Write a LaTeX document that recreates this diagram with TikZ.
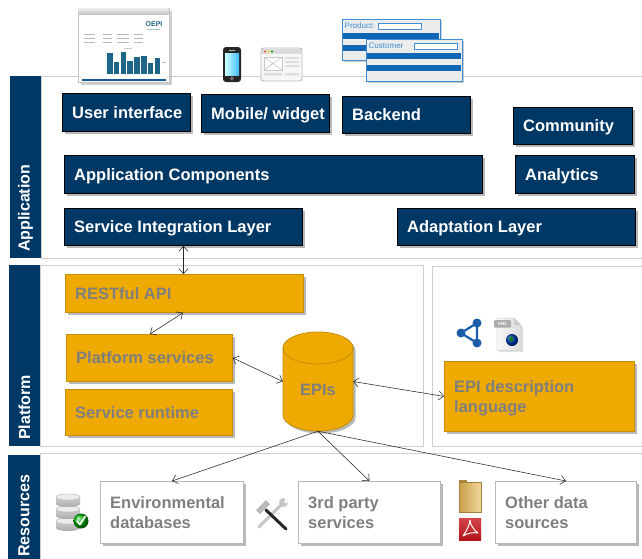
\documentclass[tikz,border=0pt]{standalone}
\usepackage{fontspec}
\setmainfont{Liberation Sans}
\usetikzlibrary{arrows.meta,shadows,calc}

\definecolor{navy}{HTML}{003865}
\definecolor{gold}{HTML}{EEAA00}
\definecolor{goldedge}{HTML}{C58E00}
\definecolor{textgray}{HTML}{7F7F7F}
\definecolor{panelgray}{HTML}{CFCFCF}
\definecolor{resedge}{HTML}{B8B8B8}
\definecolor{formblue}{HTML}{3C8DD6}
\definecolor{barblue}{HTML}{0F66B5}
\definecolor{chartteal}{HTML}{1E6688}
\definecolor{sharecol}{HTML}{1C5DAA}
\definecolor{pdfred}{HTML}{C8161D}
\definecolor{folderdark}{HTML}{C9A04A}
\definecolor{folderlight}{HTML}{F1D79A}

\tikzset{
  shadowed/.style={drop shadow={shadow xshift=2.5pt, shadow yshift=-2.5pt, fill=black, opacity=0.28}},
  appbox/.style={shadowed, draw=black, line width=0.9pt, fill=navy},
  appbox text/.style={text=white, font=\bfseries\fontsize{16.5}{19}\selectfont, inner sep=0pt, text height=0.72em, text depth=0em, yshift=-2pt},
  platbox/.style={shadowed, draw=goldedge, line width=0.8pt, fill=gold},
  platbox text/.style={text=textgray, font=\bfseries\fontsize{16.5}{19}\selectfont, inner sep=0pt, text height=0.72em, text depth=0em, yshift=-2pt},
  platbox2/.style={platbox},
  platbox2 text/.style={text=textgray, font=\bfseries\fontsize{16.5}{20}\selectfont, inner sep=0pt, align=left, yshift=-1.5pt},
  resbox/.style={shadowed, draw=resedge, line width=0.9pt, fill=white},
  resbox text/.style={text=textgray, font=\bfseries\fontsize{16.5}{20}\selectfont, inner sep=0pt, align=left},
  bandblock/.style={fill=navy, draw=none},
  bandtext/.style={rotate=90, anchor=west, text=white, font=\bfseries\fontsize{16}{19}\selectfont, inner sep=0pt},
  panel/.style={draw=panelgray, line width=0.9pt, fill=white},
  link/.style={draw=black!85, line width=0.55pt, arrows={Straight Barb[length=5pt,width=9pt]-Straight Barb[length=5pt,width=9pt]}},
  feed/.style={draw=black!85, line width=0.55pt, arrows={-Straight Barb[length=5pt,width=9pt]}},
}

% box with a left-aligned label: style, name, x1, y1, x2, y2, text
\newcommand\archbox[7]{%
  \pgfmathsetmacro\archw{#5-#3}%
  \pgfmathsetmacro\archh{#6-#4}%
  \node[#1, anchor=north west, minimum width=\archw pt, minimum height=\archh pt, inner sep=0pt] (#2) at (#3,#4) {};
  \node[#1 text, anchor=west] (#2-t) at ([xshift=10pt]#2.west) {#7};}

\begin{document}
\begin{tikzpicture}[x=1pt, y=-1pt]
\useasboundingbox (0,0) rectangle (642,558);
\fill[white] (0,0) rectangle (642,558);

% ---------- layer panels ----------
\draw[panel] (41,76) rectangle (646,258);
\draw[panel] (40,265) rectangle (423,446);
\draw[panel] (432,266) rectangle (646,446);
\draw[panel] (40,453) rectangle (646,562);

% ---------- layer bands ----------
\fill[bandblock] (10,76) rectangle (41,258);
\node[bandtext] (lbl-app) at (25.5,252) {Application};
\fill[bandblock] (9,265) rectangle (40,446);
\node[bandtext] (lbl-plat) at (24.5,440) {Platform};
\fill[bandblock] (8,455) rectangle (40,560);
\node[bandtext] (lbl-res) at (24,557) {Resources};

% ---------- top icons ----------
% dashboard screenshot
\fill[black, opacity=.18] (80.5,10.5) rectangle (171.5,84.5);
\draw[gray!50, fill=white, line width=.6pt] (78,8) rectangle (169,82);
\shade[top color=gray!15, bottom color=gray!45] (78.3,8.3) rectangle (168.7,14);
\node[font=\bfseries\fontsize{7}{7}\selectfont, text=chartteal, inner sep=0pt] (logo) at (154,24) {OEPI};
\draw[chartteal!40, line width=.5pt] (147,29) -- (160,29);
\foreach \yy in {34,38,42} {
  \draw[gray!55, line width=.6pt] (84,\yy) -- (95,\yy) (103,\yy) -- (112,\yy) (117,\yy) -- (129,\yy) (134,\yy) -- (143,\yy);
}
\draw[gray!45, line width=.5pt] (124,48) -- (132,48);
\foreach \i/\top in {0/53,1/62,2/52,3/61,4/57,5/56,6/63,7/58} {
  \fill[chartteal] ({107+6.8*\i},\top) rectangle ({112.5+6.8*\i},74);
}
\draw[gray!50, line width=.5pt] (162,62) -- (166,62);
\fill[chartteal!85!blue] (82,79) rectangle (166,81);

% phone
\fill[black!85, rounded corners=3pt] (223,47) rectangle (241,82);
\shade[left color=cyan!20!white, right color=blue!35!cyan!75] (225,53) rectangle (239,75);
\fill[gray!60] (229,50) rectangle (235,51);
\draw[gray!70, line width=.5pt] (232,78.5) circle (1.6pt);

% browser window
\draw[gray!55, fill=gray!6, rounded corners=2.5pt, line width=.9pt] (261,48) rectangle (302,81);
\fill[gray!28] (262,49) rectangle (301,54);
\fill[red!70] (265,51.5) circle (1.2pt);
\fill[yellow!80!orange] (268.5,51.5) circle (1.2pt);
\fill[green!60!black] (272,51.5) circle (1.2pt);
\draw[gray!45, fill=white, line width=.6pt] (264,57) rectangle (282,70);
\draw[gray!45, line width=.6pt] (264,57) -- (282,70) (264,70) -- (282,57);
\fill[gray!25] (285,57) rectangle (299,59) (285,61) rectangle (299,63) (285,65) rectangle (299,67)
  (264,73) rectangle (282,75.5) (285,73) rectangle (299,75.5);

% forms
\fill[black, opacity=.2] (344,21) rectangle (442,62);
\draw[formblue, fill=gray!15, line width=1pt] (342,19) rectangle (440,60);
\node[anchor=west, text=formblue, font=\fontsize{8}{8}\selectfont, inner sep=0pt] (prod) at (344.5,26) {Product:};
\draw[formblue, fill=white, line width=.8pt] (378,23) rectangle (421,29);
\fill[barblue] (343,33) rectangle (439,39);
\fill[barblue] (343,45) rectangle (366,51);
\fill[black, opacity=.2] (368,41) rectangle (464,83);
\draw[formblue, fill=gray!15, line width=1pt] (366,39) rectangle (462,81);
\node[anchor=west, text=formblue, font=\fontsize{8}{8}\selectfont, inner sep=0pt] (cust) at (368.5,46) {Customer};
\draw[formblue, fill=white, line width=.8pt] (414,43) rectangle (457,49);
\fill[barblue] (367,53) rectangle (461,59);
\fill[barblue] (367,65) rectangle (461,71);

% ---------- application layer ----------
\archbox{appbox}{ui}{62}{93}{190}{131}{User interface}
\archbox{appbox}{mob}{201}{94}{329}{132}{Mobile/ widget}
\archbox{appbox}{back}{342}{96}{470}{133}{Backend}
\archbox{appbox}{comm}{513}{107}{632}{144}{Community}
\archbox{appbox}{comp}{64}{155}{482}{193}{Application Components}
\archbox{appbox}{anal}{515}{155}{634}{193}{Analytics}
\archbox{appbox}{sil}{64}{208}{302}{245}{Service Integration Layer}
\archbox{appbox}{adapt}{397}{208}{635}{245}{Adaptation Layer}

% ---------- platform layer ----------
\archbox{platbox}{rest}{65}{274}{303}{312}{RESTful API}
\archbox{platbox}{ps}{66}{334}{232}{381}{Platform services}
\archbox{platbox}{rt}{65}{389}{232}{435}{Service runtime}
\archbox{platbox2}{epidl}{444}{361}{634}{431}{EPI description\\language}

% EPIs store
\node[inner sep=0pt, minimum width=70pt, minimum height=99pt] (epi) at (318,381.5) {};
\fill[black, opacity=.28, xshift=2.5pt, yshift=-2.5pt]
  (283,348) -- (283,415) arc[start angle=180, end angle=360, x radius=35pt, y radius=16pt]
  -- (353,348) arc[start angle=0, end angle=180, x radius=35pt, y radius=16pt] -- cycle;
\filldraw[fill=gold, draw=goldedge, line width=0.8pt]
  (283,348) -- (283,415) arc[start angle=180, end angle=360, x radius=35pt, y radius=16pt]
  -- (353,348) arc[start angle=0, end angle=180, x radius=35pt, y radius=16pt] -- cycle;
\draw[goldedge, line width=0.8pt] (283,348) arc[start angle=180, end angle=360, x radius=35pt, y radius=16pt];
\node[platbox text] (epi-t) at (318,390) {EPIs};

% description-language icons
\draw[sharecol, line width=2.2pt] (477,323) -- (461,333) -- (477,343) -- cycle;
\fill[sharecol] (477,323) circle (4.5pt) (461,333) circle (4.5pt) (477,343) circle (4.5pt);
\fill[black, opacity=.12] (499,320) -- (516,320) -- (523,327) -- (523,352) -- (499,352) -- cycle;
\shade[left color=gray!5, right color=gray!28] (497,318) -- (514,318) -- (521,325) -- (521,350) -- (497,350) -- cycle;
\draw[gray!40, line width=.5pt] (497,318) -- (514,318) -- (521,325) -- (521,350) -- (497,350) -- cycle;
\fill[gray!40] (514,318) -- (514,325) -- (521,325) -- cycle;
\fill[gray!65, rounded corners=1pt] (494,320) rectangle (511,327.5);
\node[font=\bfseries\fontsize{4.5}{5}\selectfont, text=white, inner sep=0pt] (xmltag) at (502.5,323.8) {XML};
\shade[ball color=blue!55!teal] (512,340) circle (6pt);
\fill[green!45!black, opacity=.8] (509,337) .. controls (512,335) and (515,338) .. (513,341) .. controls (511,343) and (508,341) .. (509,337);

% ---------- resources layer ----------
\archbox{resbox}{env}{100}{481}{243}{543}{Environmental\\databases}
\archbox{resbox}{tps}{298}{481}{440}{543}{3rd party\\services}
\archbox{resbox}{ods}{495}{481}{636}{543}{Other data\\sources}

% database icon
\foreach \t in {518,506,494} {
  \shade[top color=gray!30, bottom color=gray!65]
    (56,{\t+3}) -- (56,{\t+10}) arc[start angle=180, end angle=360, x radius=12pt, y radius=3pt]
    -- (80,{\t+3}) arc[start angle=0, end angle=180, x radius=12pt, y radius=3pt] -- cycle;
  \fill[gray!15] (68,{\t+3}) ellipse [x radius=12pt, y radius=3pt];
  \draw[gray!55, line width=.4pt] (68,{\t+3}) ellipse [x radius=12pt, y radius=3pt];
}
\shade[ball color=green!70!black] (81,521) circle (7.5pt);
\draw[white, line width=1.8pt, line cap=round, line join=round] (77,521) -- (80,524.5) -- (85,516.5);

% tools icon
\draw[gray!45, line width=3pt, line cap=round] (259,527) -- (281,505);
\fill[gray!45] (283.5,502.5) circle (4.5pt);
\fill[white] (285,498) -- (289,502) -- (284.5,503.5) -- cycle;
\draw[black!85, line width=3pt, line cap=round] (266,510) -- (286,529);
\fill[gray!55] (270,504) -- (266,500) -- (256,510) -- (260,514) -- cycle;

% folder and pdf icons
\shade[left color=folderdark, right color=folderlight] (459,482) rectangle (481,512);
\fill[folderdark!85!black] (459,480) rectangle (467,483);
\draw[folderdark!80!black, line width=.4pt] (459,482) rectangle (481,512);
\shade[top color=pdfred!80, bottom color=pdfred!90!black] (459,518) rectangle (481,540);
\draw[white, line width=1pt, line join=round]
  (463,536) .. controls (467,530) and (470,524) .. (470,520)
  .. controls (470,525) and (474,530) .. (478,533)
  .. controls (474,532) and (467,533) .. (463,536);

% ---------- connectors ----------
\draw[link] (sil.south) -- (sil.south |- rest.north);
\draw[link] ([xshift=118pt]rest.south west) -- ([xshift=84pt]ps.north west);
\draw[link] (ps.east) -- (epi.west);
\draw[link] (epi.east) -- (epidl.west);
\draw[feed] (epi.south) -- (env.north);
\draw[feed] (epi.south) -- (tps.north);
\draw[feed] (epi.south) -- (ods.north);
\end{tikzpicture}
\end{document}
